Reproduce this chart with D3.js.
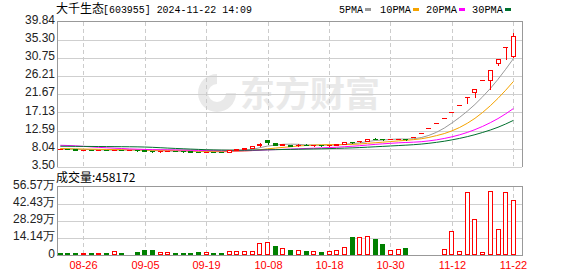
<!DOCTYPE html>
<html>
<head>
<meta charset="utf-8">
<script src="https://cdn.jsdelivr.net/npm/d3@7"></script>
<style>
body { margin: 0; background: #fff; }
svg { display: block; }
</style>
</head>
<body>
<div id="chart"></div>
<script>
// 大千生态 603955, daily K line, 2024-08-21 .. 2024-11-22 (one halt day)
const dates = [
  "08-21","08-22","08-23","08-26","08-27","08-28","08-29","08-30","09-02","09-03",
  "09-04","09-05","09-06","09-09","09-10","09-11","09-12","09-13","09-18","09-19",
  "09-20","09-23","09-24","09-25","09-26","09-27","09-30","10-08","10-09","10-10",
  "10-11","10-14","10-15","10-16","10-17","10-18","10-21","10-22","10-23","10-24",
  "10-25","10-28","10-29","10-30","10-31","11-01","11-05","11-06","11-07","11-08",
  "11-11","11-12","11-13","11-14","11-15","11-18","11-19","11-20","11-21","11-22"
]
const open = [
  7.95, 7.96, 7.90, 7.72, 7.76, 7.68, 7.72, 7.64, 7.78, 7.70,
  7.74, 7.62, 7.48, 7.36, 7.42, 7.47, 7.41, 7.36, 7.30, 7.23,
  7.30, 7.26, 7.24, 7.66, 7.92, 8.15, 8.89, 10.14, 9.38, 9.05,
  9.00, 8.85, 9.05, 8.90, 8.95, 8.85, 9.00, 9.14, 9.80, 9.88,
  10.04, 10.56, 10.50, 10.40, 10.45, 10.45, 10.93, 11.89, 13.18, 14.39,
  15.62, 17.30, 18.89, 20.89, 22.21, 25.18, 25.29, 29.39, 33.39, 31.29
]
const high = [
  7.99, 7.99, 7.92, 7.80, 7.78, 7.75, 7.73, 7.82, 7.79, 7.76,
  7.75, 7.63, 7.49, 7.45, 7.50, 7.48, 7.42, 7.37, 7.31, 7.34,
  7.32, 7.28, 7.64, 7.95, 8.16, 8.70, 9.35, 10.20, 9.45, 9.25,
  9.05, 9.15, 9.10, 9.00, 8.97, 9.05, 9.20, 9.82, 9.82, 9.95,
  10.58, 10.62, 10.55, 10.50, 10.55, 10.48, 10.93, 11.89, 13.18, 14.39,
  15.62, 17.30, 18.89, 20.89, 22.89, 25.18, 27.64, 30.39, 33.39, 36.96
]
const low = [
  7.90, 7.88, 7.70, 7.68, 7.66, 7.64, 7.60, 7.60, 7.66, 7.68,
  7.58, 7.42, 7.30, 7.32, 7.38, 7.36, 7.32, 7.26, 7.18, 7.20,
  7.22, 7.18, 7.20, 7.60, 7.85, 8.10, 8.80, 9.20, 9.00, 8.95,
  8.75, 8.80, 8.85, 8.80, 8.80, 8.82, 8.95, 9.10, 9.55, 9.80,
  10.00, 10.40, 10.30, 10.35, 10.40, 10.30, 10.93, 11.89, 13.18, 14.39,
  15.62, 17.10, 18.89, 19.39, 21.04, 25.18, 22.97, 29.04, 30.54, 30.89
]
const close = [
  7.97, 7.93, 7.72, 7.76, 7.70, 7.73, 7.66, 7.80, 7.72, 7.74,
  7.62, 7.48, 7.36, 7.42, 7.47, 7.41, 7.36, 7.30, 7.22, 7.30,
  7.26, 7.21, 7.62, 7.90, 8.12, 8.60, 9.29, 9.64, 9.05, 9.14,
  8.79, 9.09, 8.89, 8.95, 8.85, 9.00, 9.14, 9.78, 9.75, 9.90,
  10.54, 10.50, 10.40, 10.45, 10.50, 10.39, 10.93, 11.89, 13.18, 14.39,
  15.62, 17.30, 18.89, 20.89, 22.89, 25.18, 27.64, 30.39, 33.39, 36.14
]
const volume = [
  21000, 21000, 21000, 18000, 21000, 21000, 21000, 37000, 21000, 12000,
  29000, 45000, 45000, 26000, 26000, 21000, 21000, 21000, 29000, 26000,
  21000, 21000, 34000, 34000, 34000, 34000, 100000, 108000, 78000, 59000,
  43000, 43000, 37000, 34000, 29000, 34000, 45000, 70000, 152000, 152000,
  160000, 136000, 95000, 43000, 51000, 62000, 10000, 10000, 10000, 10000,
  51000, 199000, 34000, 520000, 300000, 26000, 530000, 215000, 520000, 458172
]
// closes of the 29 sessions before 08-21, only used for the moving averages
const preCloses = [
  8.30, 8.25, 8.20, 8.15, 8.10, 8.12, 8.18, 8.22, 8.25, 8.23,
  8.90, 9.50, 10.20, 10.40, 10.10, 9.90, 9.70, 9.50, 9.80,
  8.90, 8.60, 8.30, 8.10, 7.90,
  8.00, 8.10, 8.05, 8.08, 8.00
]
const priceTicks = [3.50, 8.04, 12.59, 17.13, 21.67, 26.21, 30.75, 35.30, 39.84]
const volumeTicks = [0, 141400, 282900, 424300, 565700]
const volumeTickLabels = ["0", "14.14万", "28.29万", "42.43万", "56.57万"]
const dateTicks = ["08-26", "09-05", "09-19", "10-08", "10-18", "10-30", "11-12", "11-22"]
const maPeriods = [5, 10, 20, 30]

const maColors = ["#999999", "#f5a300", "#ff00ff", "#00702e"]
const up = "#ff0000"
const down = "#008000"

const left = 56.46
const right = 522
const step = 7.679

const svg = d3.select("#chart").append("svg")
    .attr("width", 578)
    .attr("height", 276)
    .style("font-family", "'Liberation Sans', Arial, sans-serif")

const x = d3.scaleBand()
    .domain(dates)
    .range([left, left + step * dates.length])
    .paddingInner(0.35)
    .paddingOuter(0.175)
const cx = d => Math.round(x(d) + x.bandwidth() / 2) + 0.5

const yPrice = d3.scaleLinear().domain([3.50, 39.84]).range([166.9, 21.5])
const yVol = d3.scaleLinear().domain([0, 565700]).range([255.5, 186.7])

const bars = dates.map((d, i) => ({
    date: d, o: open[i], h: high[i], l: low[i], c: close[i], v: volume[i],
    prev: i === 0 ? preCloses[preCloses.length - 1] : close[i - 1]
}))

// watermark
const wm = svg.append("g").attr("fill", "#e9e9e9")
wm.append("path")
    .attr("d", "M217,74 a19,19 0 1,0 19,19 h-10 a9,9 0 1,1 -9,-9 z")
wm.append("text")
    .attr("x", 240).attr("y", 107)
    .style("font-family", "'Noto Sans CJK SC', sans-serif")
    .style("font-weight", 700)
    .style("font-size", "35px")
    .text("东方财富")

// grids
const grid = svg.append("g").attr("shape-rendering", "crispEdges")
grid.selectAll(".hp").data(priceTicks.slice(0, -1)).enter().append("line")
    .attr("x1", 57).attr("x2", right)
    .attr("y1", d => Math.round(yPrice(d)) + 0.5).attr("y2", d => Math.round(yPrice(d)) + 0.5)
    .attr("stroke", "#cfcfcf")
grid.selectAll(".hv").data(volumeTicks.slice(1, -1)).enter().append("line")
    .attr("x1", 57).attr("x2", right)
    .attr("y1", d => Math.round(yVol(d)) + 0.5).attr("y2", d => Math.round(yVol(d)) + 0.5)
    .attr("stroke", "#cfcfcf")
dateTicks.forEach(d => {
    [[yPrice(39.84), yPrice(3.50)], [yVol(565700), yVol(0)]].forEach(([a, b]) => {
        grid.append("line")
            .attr("x1", cx(d)).attr("x2", cx(d))
            .attr("y1", a).attr("y2", b)
            .attr("stroke", "#cccccc")
            .attr("stroke-dasharray", "4,3")
    })
})

// frames
const frame = svg.append("g").attr("shape-rendering", "crispEdges").attr("stroke", "#999").attr("fill", "none")
frame.append("path").attr("d", `M57.5,167 V21.5 H${right + 0.5} V167`)
frame.append("path").attr("d", `M57.5,255.5 V186.5 H${right + 0.5} V255.5`)
frame.append("line").attr("x1", 57).attr("x2", right + 1).attr("y1", 255.5).attr("y2", 255.5)

// moving averages
const allCloses = preCloses.concat(close)
const maLine = d3.line().x(d => d[0]).y(d => d[1])
maPeriods.forEach((n, k) => {
    const pts = dates.map((d, i) => {
        const j = i + preCloses.length
        return [x(d) + x.bandwidth() / 2, yPrice(d3.mean(allCloses.slice(j - n + 1, j + 1)))]
    })
    svg.append("path")
        .attr("d", maLine(pts))
        .attr("fill", "none")
        .attr("stroke", maColors[k])
        .attr("stroke-width", 1)
})

// candles
const candle = svg.append("g").attr("shape-rendering", "crispEdges")
bars.forEach(b => {
    const isUp = b.c > b.o || (b.c === b.o && b.c >= b.prev)
    const col = isUp ? up : down
    const g = candle.append("g")
    const xl = Math.round(x(b.date))
    const top = Math.round(yPrice(Math.max(b.o, b.c)))
    const bot = Math.round(yPrice(Math.min(b.o, b.c)))
    g.append("line")
        .attr("x1", cx(b.date)).attr("x2", cx(b.date))
        .attr("y1", Math.round(yPrice(b.h))).attr("y2", Math.round(yPrice(b.l)) + 1)
        .attr("stroke", col)
    if (bot - top < 1) {
        g.append("rect").attr("x", xl).attr("y", top).attr("width", 5).attr("height", 1).attr("fill", col)
    } else if (b.c > b.o) {
        g.append("rect").attr("x", xl + 0.5).attr("y", top + 0.5).attr("width", 4).attr("height", bot - top)
            .attr("fill", "#fff").attr("stroke", col)
    } else {
        g.append("rect").attr("x", xl).attr("y", top).attr("width", 5).attr("height", bot - top + 1).attr("fill", col)
    }
})

// volume bars
const vol = svg.append("g").attr("shape-rendering", "crispEdges")
bars.forEach(b => {
    const xl = Math.round(x(b.date))
    const top = Math.round(yVol(b.v))
    const bot = 255
    if (b.c >= b.prev) {
        vol.append("rect").attr("x", xl + 0.5).attr("y", top + 0.5).attr("width", 4).attr("height", Math.max(bot - top - 1, 0))
            .attr("fill", "#fff").attr("stroke", up)
    } else {
        vol.append("rect").attr("x", xl).attr("y", top).attr("width", 5).attr("height", bot - top).attr("fill", down)
    }
})

// axis labels
svg.append("g").selectAll("text").data(priceTicks).enter().append("text")
    .attr("x", 55).attr("y", d => yPrice(d) - 1)
    .attr("text-anchor", "end").attr("dominant-baseline", "middle")
    .style("font-size", "12px").attr("fill", "#222")
    .text(d => d.toFixed(2))
svg.append("g").selectAll("text").data(volumeTicks).enter().append("text")
    .attr("x", 55).attr("y", d => yVol(d) - 1)
    .attr("text-anchor", "end").attr("dominant-baseline", "middle")
    .style("font-size", "12px").attr("fill", "#222")
    .text((d, i) => volumeTickLabels[i])
svg.append("g").selectAll("text").data(dateTicks).enter().append("text")
    .attr("x", d => cx(d)).attr("y", 269)
    .attr("text-anchor", "middle")
    .style("font-size", "11px").attr("fill", "#ff0000")
    .text(d => d)

// title and legend
svg.append("text").attr("x", 56).attr("y", 13)
    .style("font-family", "'Noto Sans CJK SC', sans-serif").style("font-size", "12px")
    .text("大千生态")
svg.append("text").attr("x", 103).attr("y", 13)
    .style("font-family", "'Liberation Mono', monospace").style("font-size", "11px")
    .attr("textLength", 149).attr("lengthAdjust", "spacingAndGlyphs")
    .text("[603955] 2024-11-22 14:09")

const legend = [["5PMA", 339, 365], ["10PMA", 380, 413], ["20PMA", 426, 459], ["30PMA", 472, 505]]
legend.forEach(([t, tx, sx], k) => {
    svg.append("text").attr("x", tx).attr("y", 13)
        .style("font-family", "'Liberation Mono', monospace").style("font-size", "11px")
        .attr("textLength", sx - tx - 2).attr("lengthAdjust", "spacingAndGlyphs")
        .text(t)
    svg.append("rect").attr("x", sx).attr("y", 8).attr("width", 6).attr("height", 3).attr("fill", maColors[k])
})

svg.append("text").attr("x", 56).attr("y", 182)
    .style("font-family", "'Noto Sans CJK SC', sans-serif").style("font-size", "12px")
    .text("成交量:458172")
</script>
</body>
</html>
